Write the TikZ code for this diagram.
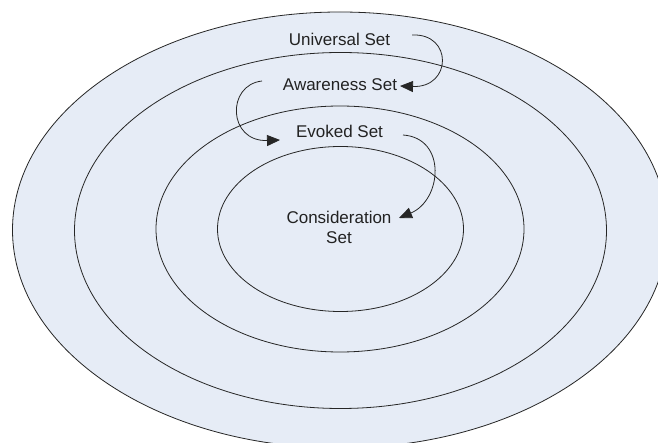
\documentclass[tikz,border=0pt]{standalone}
\usepackage{fontspec}
\setmainfont{Liberation Sans}
\usetikzlibrary{arrows.meta}
\definecolor{ringfill}{HTML}{E6ECF6}
\definecolor{txt}{HTML}{222222}
\begin{document}
\begin{tikzpicture}[x=1pt,y=-1pt,
  ring/.style={draw=black!85,fill=ringfill,line width=0.8pt},
  lbl/.style={anchor=base,text=txt,font=\fontsize{17}{20}\selectfont,inner sep=0pt,align=center},
  flow/.style={draw=black!85,line width=0.8pt,-{Triangle[length=13pt,width=11pt]}}]
\useasboundingbox (0,0) rectangle (658,443);
\clip (0,0) rectangle (658,443);
\fill[white] (0,0) rectangle (658,443);
\draw[ring] (340,230) ellipse [x radius=327.5, y radius=218];
\draw[ring] (340.5,230.5) ellipse [x radius=266, y radius=178];
\draw[ring] (340,229) ellipse [x radius=184, y radius=123];
\draw[ring] (340.5,229) ellipse [x radius=123, y radius=82.5];
\node[lbl] (univ) at (339.5,46) {Universal Set};
\node[lbl] (aware) at (340,90.7) {Awareness Set};
\node[lbl] (evoked) at (339.5,137.5) {Evoked Set};
\node[lbl] (consid) at (339,243.3) {Consideration\\Set};
\coordinate (a1s) at (412,35);
\coordinate (a1e) at (400,86);
\coordinate (a2s) at (262,81);
\coordinate (a2e) at (280,140);
\coordinate (a3s) at (403,135);
\coordinate (a3e) at (399,218);
\draw[flow] (a1s) .. controls (453,33) and (452,88) .. (a1e);
\draw[flow] (a2s) .. controls (226,85) and (228,142) .. (a2e);
\draw[flow] (a3s) .. controls (447,138) and (442,200) .. (a3e);
\end{tikzpicture}
\end{document}
